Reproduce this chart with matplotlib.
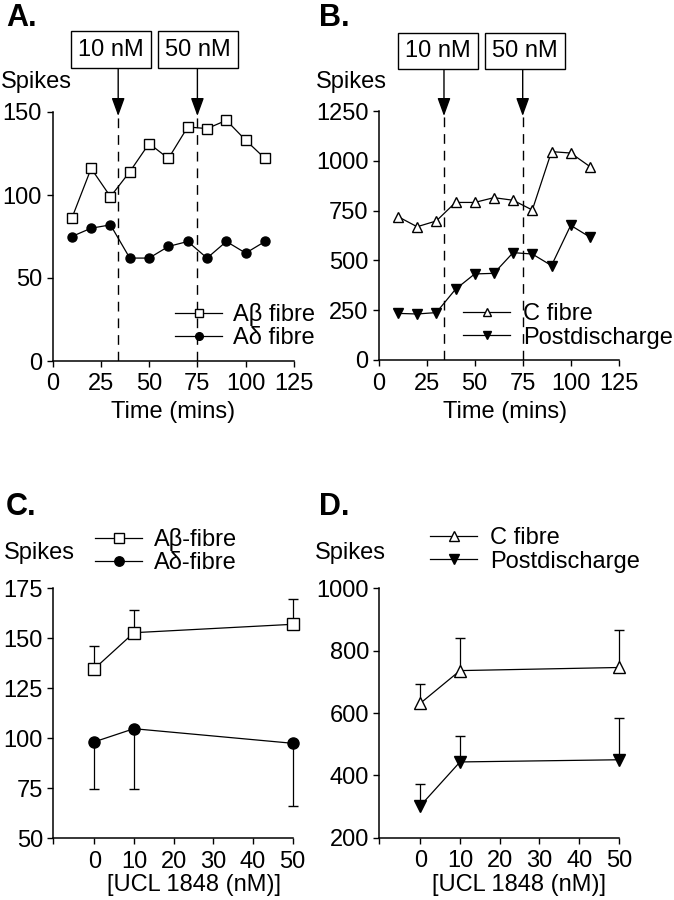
import numpy as np
import matplotlib
matplotlib.use("Agg")
import matplotlib.pyplot as plt

plt.rcParams['font.family'] = ['Liberation Sans', 'DejaVu Sans']

# ---------------- data ----------------
time_min = [10, 20, 30, 40, 50, 60, 70, 80, 90, 100, 110]
abeta_time = [86, 116, 99, 114, 131, 122, 141, 140, 145, 133, 122]
adelta_time = [75, 80, 82, 62, 62, 69, 72, 62, 72, 65, 72]
cfibre_time = [720, 669, 698, 791, 791, 815, 802, 753, 1046, 1039, 971]
postdis_time = [234, 231, 238, 355, 432, 435, 539, 532, 474, 676, 617]
drug_times = [34, 75]
drug_labels = ["10 nM", "50 nM"]

dose_nM = [0, 10, 50]
abeta_dose = [134.7, 152.8, 157.0]
abeta_err = [11.5, 11.2, 12.8]
adelta_dose = [98.2, 104.8, 97.5]
adelta_err = [23.7, 30.3, 31.3]
cfibre_dose = [631, 736, 746]
cfibre_err = [63, 106, 119]
postdis_dose = [302, 443, 450]
postdis_err = [70, 83, 133]

time_ticks = [0, 25, 50, 75, 100, 125]
dose_ticks = [0, 10, 20, 30, 40, 50]
ticksA = [0, 50, 100, 150]
ticksB = [0, 250, 500, 750, 1000, 1250]
ticksC = [50, 75, 100, 125, 150, 175]
ticksD = [200, 400, 600, 800, 1000]

# ---------------- layout helpers ----------------
W, H = 674, 900
fig = plt.figure(figsize=(W / 100, H / 100), dpi=100)
FS = 17


def fx(x):
    return x / W


def fy(y):
    return 1 - y / H


def make_ax(l, r, t, b):
    ax = fig.add_axes([fx(l), fy(b), fx(r) - fx(l), fy(t) - fy(b)])
    for s in ['top', 'right']:
        ax.spines[s].set_visible(False)
    for s in ['left', 'bottom']:
        ax.spines[s].set_linewidth(1.1)
    ax.tick_params(direction='out', length=4, width=1.0, labelsize=FS, pad=3.5)
    ax.tick_params(axis='x', pad=5)
    return ax


lw = 0.9

# ---------------- Panel A ----------------
axA = make_ax(52.5, 294, 112, 361)
axA.set_xlim(0, 125)
axA.set_ylim(0, 150)
axA.set_xticks(time_ticks)
axA.set_yticks(ticksA)
lA1, = axA.plot(time_min, abeta_time, '-s', color='black', lw=lw, ms=7.5,
                mfc='white', mec='black', mew=1.0, label='Aβ fibre', zorder=4)
lA2, = axA.plot(time_min, adelta_time, '-o', color='black', lw=lw, ms=6.5,
                mfc='black', mec='black', label='Aδ fibre', zorder=4)

# ---------------- Panel B ----------------
axB = make_ax(378.7, 618.7, 111, 360)
axB.set_xlim(0, 125)
axB.set_ylim(0, 1250)
axB.set_xticks(time_ticks)
axB.set_yticks(ticksB)
lB1, = axB.plot(time_min, cfibre_time, '-^', color='black', lw=lw, ms=6.5,
                mfc='white', mec='black', mew=1.0, label='C fibre', zorder=4)
lB2, = axB.plot(time_min, postdis_time, '-v', color='black', lw=lw, ms=7,
                mfc='black', mec='black', label='Postdischarge', zorder=4)

for ax, boxes_x, arrow_top, box_y in [(axA, [111, 198], 67, 49.5),
                                       (axB, [438, 525], 69, 51)]:
    for t, lab, bx in zip(drug_times, drug_labels, boxes_x):
        ax.axvline(t, color='black', lw=1.0, ls=(0, (7, 5)), zorder=1)
        ax.annotate('', xy=(t, H - 116), xycoords=('data', 'figure pixels'),
                    xytext=(t, H - arrow_top), textcoords=('data', 'figure pixels'),
                    arrowprops=dict(arrowstyle='-|>,head_length=0.55,head_width=0.2',
                                    mutation_scale=20, color='black', lw=1.0,
                                    shrinkA=0, shrinkB=0),
                    annotation_clip=False)
        fig.text(fx(bx), fy(box_y), lab, ha='center', va='center', fontsize=FS,
                 bbox=dict(boxstyle='square,pad=0.3', fc='white', ec='black', lw=1.0))

# ---------------- Panel C ----------------
XL = -10.3
axC = make_ax(53.3, 292.7, 588.3, 838.3)
axC.set_xlim(XL, 50)
axC.set_ylim(50, 175)
axC.set_xticks([XL] + dose_ticks)
axC.set_xticklabels([''] + [str(v) for v in dose_ticks])
axC.set_yticks(ticksC)

# ---------------- Panel D ----------------
axD = make_ax(379.3, 619, 588.3, 837.7)
axD.set_xlim(XL, 50)
axD.set_ylim(200, 1000)
axD.set_xticks([XL] + dose_ticks)
axD.set_xticklabels([''] + [str(v) for v in dose_ticks])
axD.set_yticks(ticksD)


def one_sided(ax, x, y, err, up):
    x = np.asarray(x, float)
    y = np.asarray(y, float)
    e = np.asarray(err, float)
    z = np.zeros_like(e)
    yerr = [z, e] if up else [e, z]
    eb = ax.errorbar(x, y, yerr=yerr, fmt='none', ecolor='black', elinewidth=0.9,
                     capsize=0, zorder=2)
    for art in eb.get_children():
        art.set_clip_on(False)
    ends = y + e if up else y - e
    ax.plot(x, ends, ls='none', marker='_', ms=7, mew=1.0, color='black',
            zorder=2, clip_on=False)


one_sided(axC, dose_nM, abeta_dose, abeta_err, True)
one_sided(axC, dose_nM, adelta_dose, adelta_err, False)
lC1, = axC.plot(dose_nM, abeta_dose, '-s', color='black', lw=lw, ms=9,
                mfc='white', mec='black', mew=1.0, label='Aβ-fibre', zorder=4,
                clip_on=False)
lC2, = axC.plot(dose_nM, adelta_dose, '-o', color='black', lw=lw, ms=8,
                mfc='black', mec='black', label='Aδ-fibre', zorder=4, clip_on=False)

one_sided(axD, dose_nM, cfibre_dose, cfibre_err, True)
one_sided(axD, dose_nM, postdis_dose, postdis_err, True)
lD1, = axD.plot(dose_nM, cfibre_dose, '-^', color='black', lw=lw, ms=8.5,
                mfc='white', mec='black', mew=1.0, label='C fibre', zorder=4,
                clip_on=False)
lD2, = axD.plot(dose_nM, postdis_dose, '-v', color='black', lw=lw, ms=9,
                mfc='black', mec='black', label='Postdischarge', zorder=4,
                clip_on=False)

# ---------------- legends ----------------
for ax, hs, lx, ly, tp in [(axA, [lA1, lA2], 175, 326, 0.47),
                          (axB, [lB1, lB2], 463, 326, 0.55),
                          (axC, [lC1, lC2], 95, 551, 0.5),
                          (axD, [lD1, lD2], 430, 550, 0.55)]:
    ax.legend(handles=hs, loc='center left', bbox_to_anchor=(fx(lx), fy(ly)),
              bbox_transform=fig.transFigure, frameon=False, fontsize=FS,
              borderpad=0, borderaxespad=0, handlelength=2.0, handletextpad=tp,
              labelspacing=0.05, numpoints=1, markerscale=0.85)

# ---------------- texts ----------------
for lab, x, y in [('A.', 6, 18), ('B.', 319, 18), ('C.', 6, 507), ('D.', 319, 507)]:
    fig.text(fx(x), fy(y), lab, fontsize=22, fontweight='bold', ha='left', va='center')

for x, y in [(1, 82), (316, 82), (4, 553), (315, 553)]:
    fig.text(fx(x), fy(y), 'Spikes', fontsize=FS, ha='left', va='center')

for x in [173, 505]:
    fig.text(fx(x), fy(412), 'Time (mins)', fontsize=FS, ha='center', va='center')
for x in [194, 519]:
    fig.text(fx(x), fy(885), '[UCL 1848 (nM)]', fontsize=FS, ha='center', va='center')

fig.savefig('out.png', dpi=100)
